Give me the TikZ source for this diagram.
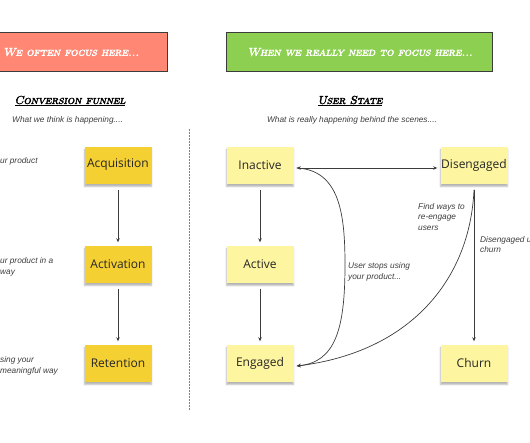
\documentclass[tikz,border=0pt]{standalone}
\usepackage{fontspec}
\newfontfamily\boxfont{Open Sans}
\newfontfamily\notefont{Liberation Sans}
\newfontfamily\hdfont[FakeBold=3,FakeSlant=0.2]{lmromancaps10-regular.otf}
\usetikzlibrary{arrows.meta,shadows.blur}
\definecolor{redbox}{RGB}{255,135,115}
\definecolor{greenbox}{RGB}{141,207,80}
\definecolor{ydark}{RGB}{245,208,50}
\definecolor{ylight}{RGB}{253,245,160}
\definecolor{notegray}{RGB}{60,60,60}
\definecolor{linegray}{RGB}{60,60,60}
\begin{document}
\begin{tikzpicture}[x=1pt,y=-1pt,
  banner/.style={draw=linegray, line width=0.8pt, inner sep=0pt, anchor=north west},
  bannertext/.style={font=\hdfont\fontsize{11.5}{13}\selectfont, text=white, inner sep=0pt},
  heading/.style={font=\hdfont\fontsize{11.5}{13}\selectfont, text=black, inner sep=0pt},
  sticky/.style={minimum width=67pt, minimum height=37pt, inner sep=0pt,
    font=\boxfont\fontsize{12}{14}\selectfont, text=black!85,
    blur shadow={shadow xshift=0pt, shadow yshift=-3pt, shadow opacity=30, shadow blur steps=4}},
  darky/.style={sticky, fill=ydark},
  lighty/.style={sticky, fill=ylight},
  note/.style={font=\notefont\itshape\fontsize{8.3}{10.8}\selectfont, text=notegray, inner sep=0pt, align=left},
  conn/.style={draw=linegray, line width=0.7pt, -{Stealth[length=4pt,width=3.5pt]}},
  biconn/.style={draw=linegray, line width=0.7pt, {Stealth[length=4pt,width=3.5pt]}-{Stealth[length=4pt,width=3.5pt]}},
  divider/.style={draw=gray, line width=0.8pt, dash pattern=on 1.5pt off 1.5pt}
]
\useasboundingbox (0,0) rectangle (530,442);
% banners
\node[banner, fill=redbox, minimum width=170pt, minimum height=39pt] (red) at (-3,32) {};
\node[bannertext] (redt) at (71,52) {We often focus here...};
\node[banner, fill=greenbox, minimum width=266pt, minimum height=39pt] (green) at (226,32) {};
\node[bannertext] (greent) at (360,52) {When we really need to focus here...};
% headings
\node[heading] (cf) at (70,101) {\underline{Conversion funnel}};
\node[heading] (us) at (350,101) {\underline{User State}};
\node[note, anchor=west] (cfsub) at (12,120) {What we think is happening....};
\node[note] (ussub) at (352,120) {What is really happening behind the scenes....};
% divider
\coordinate (dtop) at (189,129);
\coordinate (dbot) at (189,411);
\draw[divider] (dtop) -- (dbot);
% left funnel
\node[darky] (acq) at (118,165) {Acquisition};
\node[darky] (act) at (118,264) {Activation};
\node[darky] (ret) at (118,363) {Retention};
\draw[conn] ([yshift=-6pt]acq.south) -- ([yshift=3pt]act.north);
\draw[conn] ([yshift=-6pt]act.south) -- ([yshift=3pt]ret.north);
\node[note, anchor=west] (n1) at (0,161) {ur product};
\node[note, anchor=west] (n2) at (0,266.5) {ur product in a\\way};
\node[note, anchor=west] (n3) at (0,365.5) {sing your\\meaningful way};
% user state
\node[lighty] (inact) at (260,165) {Inactive};
\node[lighty] (active) at (260,264) {Active};
\node[lighty] (eng) at (260,363) {Engaged};
\node[lighty] (dis) at (474,165) {Disengaged};
\node[lighty] (churn) at (474,363) {Churn};
\draw[conn] ([yshift=-6pt]inact.south) -- ([yshift=3pt]active.north);
\draw[conn] ([yshift=-6pt]active.south) -- ([yshift=3pt]eng.north);
\draw[biconn] ([xshift=3pt,yshift=-3pt]inact.east) -- ([xshift=-3pt,yshift=-3pt]dis.west);
\draw[conn] ([yshift=-6pt]dis.south) -- ([yshift=3pt]churn.north);
\draw[conn] ([xshift=3pt,yshift=-3pt]inact.east) .. controls (340,170) and (345,215) .. (345,265)
   .. controls (345,330) and (335,362) .. ([xshift=3pt,yshift=-3pt]eng.east);
\draw[conn] ([yshift=-6pt]dis.south) .. controls (470,280) and (410,352) .. ([xshift=3pt,yshift=-3pt]eng.east);
\node[note, anchor=west] (n4) at (348,272) {User stops using\\your product...};
\node[note, anchor=west] (n5) at (418,217) {Find ways to\\re-engage\\users};
\node[note, anchor=west] (n6) at (480,244.5) {Disengaged u\\churn};
\end{tikzpicture}
\end{document}
